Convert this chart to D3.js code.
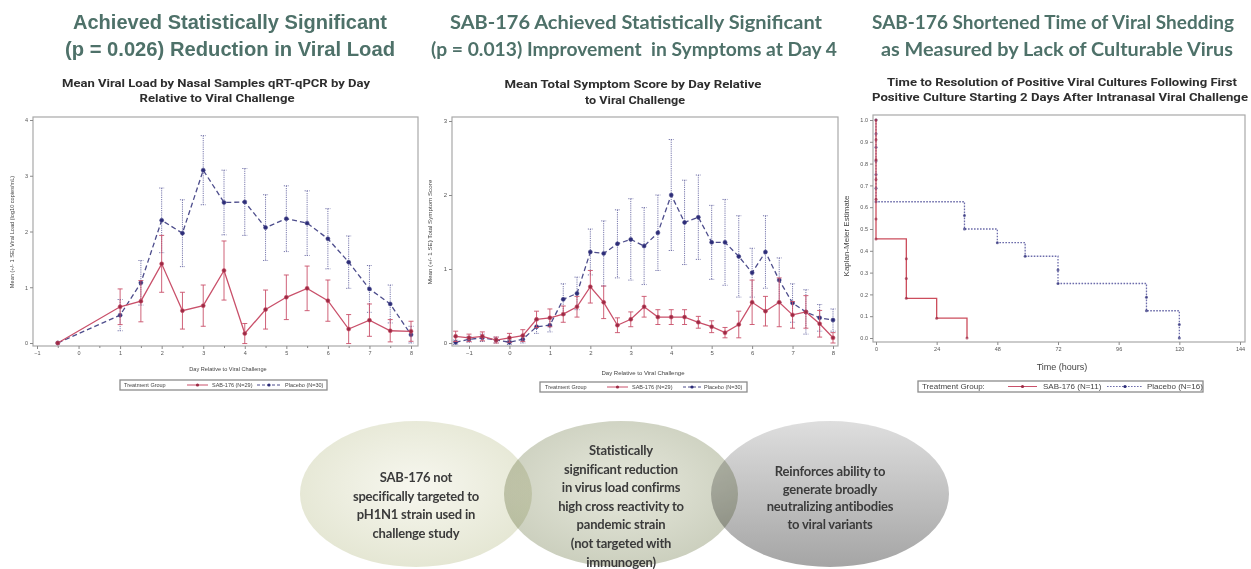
<!DOCTYPE html>
<html>
<head>
<meta charset="utf-8">
<script src="https://cdn.jsdelivr.net/npm/d3@7"></script>
<style>
body{margin:0;background:#fff;}
svg{display:block;}
</style>
</head>
<body>
<div id="chart"></div>
<script>
//values

//panel 1 - viral load by day
var viralDays  = [-0.5, 1, 1.5, 2, 2.5, 3, 3.5, 4, 4.5, 5, 5.5, 6, 6.5, 7, 7.5, 8];
var viralSab   = [0, 0.65, 0.75, 1.42, 0.58, 0.67, 1.30, 0.17, 0.60, 0.82, 0.98, 0.76, 0.25, 0.41, 0.22, 0.21];
var viralSabSe = [0, 0.32, 0.37, 0.51, 0.33, 0.37, 0.53, 0.18, 0.35, 0.40, 0.40, 0.37, 0.26, 0.29, 0.20, 0.18];
var viralPbo   = [0, 0.50, 1.08, 2.20, 1.97, 3.10, 2.52, 2.53, 2.07, 2.23, 2.15, 1.87, 1.45, 0.97, 0.70, 0.15];
var viralPboSe = [0, 0.28, 0.40, 0.58, 0.60, 0.62, 0.58, 0.60, 0.59, 0.59, 0.58, 0.54, 0.47, 0.42, 0.34, 0.15];

//panel 2 - symptom score, every 8 hours
var symDays  = [-1.33, -1, -0.67, -0.33, 0, 0.33, 0.67, 1, 1.33, 1.67, 2, 2.33, 2.67, 3, 3.33, 3.67, 4, 4.33, 4.67, 5, 5.33, 5.67, 6, 6.33, 6.67, 7, 7.33, 7.67, 8];
var symSab   = [0.09, 0.07, 0.09, 0.04, 0.07, 0.10, 0.32, 0.34, 0.39, 0.49, 0.76, 0.55, 0.24, 0.32, 0.49, 0.35, 0.35, 0.35, 0.28, 0.22, 0.14, 0.25, 0.55, 0.43, 0.55, 0.38, 0.42, 0.26, 0.07];
var symSabSe = [0.07, 0.05, 0.06, 0.04, 0.06, 0.08, 0.11, 0.12, 0.11, 0.14, 0.22, 0.22, 0.10, 0.10, 0.14, 0.10, 0.10, 0.10, 0.08, 0.08, 0.07, 0.18, 0.30, 0.20, 0.33, 0.18, 0.22, 0.18, 0.07];
var symPbo   = [0.01, 0.05, 0.07, 0.04, 0.01, 0.05, 0.22, 0.24, 0.59, 0.67, 1.23, 1.21, 1.34, 1.40, 1.31, 1.49, 2.00, 1.63, 1.70, 1.36, 1.36, 1.17, 0.95, 1.23, 0.85, 0.54, 0.42, 0.34, 0.31];
var symPboSe = [0.03, 0.04, 0.05, 0.04, 0.03, 0.05, 0.09, 0.09, 0.21, 0.22, 0.31, 0.44, 0.46, 0.55, 0.52, 0.51, 0.75, 0.57, 0.57, 0.50, 0.58, 0.55, 0.33, 0.49, 0.30, 0.26, 0.30, 0.18, 0.15];

//panel 3 - hours to resolution of each positive culture
var kmSabEvents = [0, 0, 0, 0, 0, 0, 12, 12, 12, 24, 36];
var kmPboEvents = [0, 0, 0, 0, 0, 0, 35, 35, 48, 59, 72, 72, 107, 107, 120, 120];

//tick labels
var dayTicks     = [-1, 0, 1, 2, 3, 4, 5, 6, 7, 8];
var dayMinor     = [-0.5, 0.5, 1.5, 2.5, 3.5, 4.5, 5.5, 6.5, 7.5];
var viralTicks   = [0, 1, 2, 3, 4];
var symTicks     = [0, 1, 2, 3];
var hourTicks    = [0, 24, 48, 72, 96, 120, 144];
var kmTicks      = [0, 0.1, 0.2, 0.3, 0.4, 0.5, 0.6, 0.7, 0.8, 0.9, 1.0];

//texts
var headTitles = [
	["Achieved Statistically Significant", "(p = 0.026) Reduction in Viral Load"],
	["SAB-176 Achieved Statistically Significant", "(p = 0.013) Improvement  in Symptoms at Day 4"],
	["SAB-176 Shortened Time of Viral Shedding", "as Measured by Lack of Culturable Virus"]
];
var subTitles = [
	["Mean Viral Load by Nasal Samples qRT-qPCR by Day", "Relative to Viral Challenge"],
	["Mean Total Symptom Score by Day Relative", "to Viral Challenge"],
	["Time to Resolution of Positive Viral Cultures Following First", "Positive Culture Starting 2 Days After Intranasal Viral Challenge"]
];
var yTitles = ["Mean (+/- 1 SE) Viral Load (log10 copies/mL)", "Mean (+/- 1 SE) Total Symptom Score", "Kaplan-Meier Estimate"];
var xTitles = ["Day Relative to Viral Challenge", "Day Relative to Viral Challenge", "Time (hours)"];
var groupNames = [["SAB-176 (N=29)", "Placebo (N=30)"], ["SAB-176 (N=29)", "Placebo (N=30)"], ["SAB-176 (N=11)", "Placebo (N=16)"]];
var bubbleTexts = [
	["SAB-176 not", "specifically targeted to", "pH1N1 strain used in", "challenge study"],
	["Statistically", "significant reduction", "in virus load confirms", "high cross reactivity to", "pandemic strain", "(not targeted with", "immunogen)"],
	["Reinforces ability to", "generate broadly", "neutralizing antibodies", "to viral variants"]
];

var RED = "#c9506a", REDDOT = "#9c2a44";
var BLUE = "#4d4d8c", BLUEDOT = "#2c2c78";
var TITLE = "#4e7169";

var svg = d3.select("#chart").append("svg")
	.attr("width", 1251)
	.attr("height", 569)
	.style("font-family", "Roboto, sans-serif");

svg.append("rect").attr("width", 1251).attr("height", 569).attr("fill", "#fff");

//big headline titles
var headLayout = [
	{cx:[230, 230], len:[314, 330], size:20, font:"'Liberation Sans', Arial, sans-serif"},
	{cx:[636, 634], len:[372, 406], size:19, font:"Lato, sans-serif"},
	{cx:[1053, 1057], len:[362, 352], size:19, font:"Lato, sans-serif"}
];
headTitles.forEach(function(lines, p){
	lines.forEach(function(t, i){
		svg.append("text")
			.attr("x", headLayout[p].cx[i])
			.attr("y", 29 + i * 27)
			.attr("text-anchor", "middle")
			.attr("textLength", headLayout[p].len[i])
			.attr("lengthAdjust", "spacingAndGlyphs")
			.style("white-space", "pre")
			.style("font-family", headLayout[p].font)
			.style("font-weight", "bold")
			.style("font-size", headLayout[p].size + "px")
			.attr("fill", TITLE)
			.text(t);
	});
});

//chart subtitles
var subLayout = [
	{cx:[216, 217], len:[308, 155], y:[87, 102]},
	{cx:[633, 635], len:[257, 100], y:[88, 104]},
	{cx:[1062, 1060], len:[350, 376], y:[86, 101]}
];
subTitles.forEach(function(lines, p){
	lines.forEach(function(t, i){
		svg.append("text")
			.attr("x", subLayout[p].cx[i])
			.attr("y", subLayout[p].y[i])
			.attr("text-anchor", "middle")
			.attr("textLength", subLayout[p].len[i])
			.attr("lengthAdjust", "spacingAndGlyphs")
			.style("font-weight", "bold")
			.style("font-size", "11px")
			.attr("fill", "#2e2e2e")
			.text(t);
	});
});

function styleAxis(a, fs){
	a.select(".domain").remove();
	a.selectAll("line").attr("stroke", "#8a8a8a");
	a.selectAll("text")
		.attr("fill", "#555")
		.style("font-size", fs + "px")
		.style("font-family", "'Liberation Sans', Arial, sans-serif");
}

function drawFrame(g, f){
	g.append("rect")
		.attr("x", f[0]).attr("y", f[1])
		.attr("width", f[2] - f[0]).attr("height", f[3] - f[1])
		.attr("fill", "none")
		.attr("stroke", "#a8a8a8")
		.attr("stroke-width", 1.2);
}

function drawAxes(g, x, y, cfg){
	var f = cfg.frame;
	var ax = g.append("g")
		.attr("transform", "translate(0," + f[3] + ")")
		.call(d3.axisBottom(x).tickValues(cfg.xTicks).tickFormat(cfg.xFmt).tickSize(3).tickPadding(2).tickSizeOuter(0));
	styleAxis(ax, cfg.fs);
	if(cfg.xMinor){
		var am = g.append("g")
			.attr("transform", "translate(0," + f[3] + ")")
			.call(d3.axisBottom(x).tickValues(cfg.xMinor).tickFormat("").tickSize(2).tickSizeOuter(0));
		styleAxis(am, cfg.fs);
	}
	var ay = g.append("g")
		.attr("transform", "translate(" + f[0] + ",0)")
		.call(d3.axisLeft(y).tickValues(cfg.yTicks).tickFormat(cfg.yFmt).tickSize(3).tickPadding(2).tickSizeOuter(0));
	styleAxis(ay, cfg.fs);

	//axis titles
	g.append("text")
		.attr("x", cfg.xTitlePos[0]).attr("y", cfg.xTitlePos[1])
		.attr("text-anchor", "middle")
		.style("font-family", "'Liberation Sans', Arial, sans-serif")
		.style("font-size", cfg.xTitleSize + "px")
		.attr("fill", "#444")
		.text(xTitles[cfg.idx]);
	g.append("text")
		.attr("text-anchor", "middle")
		.attr("transform", "translate(" + cfg.yTitlePos[0] + "," + cfg.yTitlePos[1] + ")rotate(-90)")
		.style("font-family", "'Liberation Sans', Arial, sans-serif")
		.style("font-size", cfg.yTitleSize + "px")
		.attr("fill", "#444")
		.text(yTitles[cfg.idx]);
}

function drawLegend(g, L, idx){
	var b = L.box, cy = (b[1] + b[3]) / 2;
	var lg = g.append("g")
		.style("font-family", "'Liberation Sans', Arial, sans-serif")
		.style("font-size", L.size + "px");
	lg.append("rect")
		.attr("x", b[0]).attr("y", b[1])
		.attr("width", b[2] - b[0]).attr("height", b[3] - b[1])
		.attr("fill", "#fff").attr("stroke", "#8c8c8c").attr("stroke-width", 1.3);
	lg.append("text").attr("x", L.labelX).attr("y", cy).attr("dy", "0.35em").attr("fill", "#444").text(L.label);

	var items = [
		{line:L.red, tx:L.redX, color:RED, dot:REDDOT, dash:null, name:groupNames[idx][0]},
		{line:L.blue, tx:L.blueX, color:L.blueColor, dot:BLUEDOT, dash:L.blueDash, name:groupNames[idx][1]}
	];
	items.forEach(function(it){
		lg.append("line")
			.attr("x1", it.line[0]).attr("x2", it.line[1])
			.attr("y1", cy).attr("y2", cy)
			.attr("stroke", it.color).attr("stroke-width", 1)
			.attr("stroke-dasharray", it.dash);
		lg.append("circle")
			.attr("cx", (it.line[0] + it.line[1]) / 2).attr("cy", cy).attr("r", 1.6)
			.attr("fill", it.dot);
		lg.append("text").attr("x", it.tx).attr("y", cy).attr("dy", "0.35em").attr("fill", "#444").text(it.name);
	});
}

//mean +/- SE line chart (panels 1 and 2)
function meanPanel(cfg){
	var g = svg.append("g");
	var x = d3.scaleLinear().domain([-1, 8]).range(cfg.xRange);
	var y = d3.scaleLinear().domain([0, cfg.yTicks[cfg.yTicks.length - 1]]).range(cfg.yRange);

	drawFrame(g, cfg.frame);
	drawAxes(g, x, y, cfg);

	cfg.series.forEach(function(s){
		//error bars, skipped where there is no SE
		g.append("g").selectAll("path")
			.data(s.mean)
			.enter()
			.append("path")
			.attr("d", function(d, i){
				if(!s.se[i]) return null;
				var cx = x(s.days[i]), top = y(d + s.se[i]), bot = y(d - s.se[i]);
				return "M" + (cx - 2.5) + "," + top + "H" + (cx + 2.5) +
					"M" + cx + "," + top + "V" + bot +
					"M" + (cx - 2.5) + "," + bot + "H" + (cx + 2.5);
			})
			.attr("fill", "none")
			.attr("stroke", s.errColor)
			.attr("stroke-width", 0.9)
			.attr("stroke-dasharray", s.errDash);

		var line = d3.line()
			.x(function(d, i){ return x(s.days[i]); })
			.y(function(d){ return y(d); });

		g.append("path")
			.datum(s.mean)
			.attr("d", line)
			.attr("fill", "none")
			.attr("stroke", s.color)
			.attr("stroke-width", 1.3)
			.attr("stroke-dasharray", s.dash);

		g.append("g").selectAll("circle")
			.data(s.mean)
			.enter()
			.append("circle")
			.attr("cx", function(d, i){ return x(s.days[i]); })
			.attr("cy", function(d){ return y(d); })
			.attr("r", 2)
			.attr("fill", s.dot)
			.attr("stroke", s.color)
			.attr("stroke-width", 0.6);
	});

	drawLegend(g, cfg.legend, cfg.idx);
}

var pboSeries = function(days, mean, se){
	return {days:days, mean:mean, se:se, color:BLUE, dot:BLUEDOT, dash:"5,3", errColor:"#6a6aa4", errDash:"1.2,1"};
};
var sabSeries = function(days, mean, se){
	return {days:days, mean:mean, se:se, color:RED, dot:REDDOT, dash:null, errColor:RED, errDash:null};
};

meanPanel({
	idx:0,
	frame:[33, 117, 418, 346],
	xRange:[37, 411], yRange:[343, 120],
	xTicks:dayTicks, xMinor:dayMinor, yTicks:viralTicks,
	xFmt:d3.format("d"), yFmt:d3.format("d"),
	fs:5.5,
	xTitlePos:[228, 371], xTitleSize:5.6,
	yTitlePos:[14, 232], yTitleSize:5.6,
	series:[pboSeries(viralDays, viralPbo, viralPboSe), sabSeries(viralDays, viralSab, viralSabSe)],
	legend:{box:[120, 380, 327, 390], size:5.5, label:"Treatment Group", labelX:124,
		red:[187, 208], redX:212, blue:[257, 281], blueX:285, blueColor:BLUE, blueDash:"3,2"}
});

meanPanel({
	idx:1,
	frame:[452, 117, 838, 346],
	xRange:[469, 833], yRange:[343, 121],
	xTicks:dayTicks, xMinor:null, yTicks:symTicks,
	xFmt:d3.format("d"), yFmt:d3.format("d"),
	fs:6,
	xTitlePos:[643, 375], xTitleSize:6,
	yTitlePos:[432, 232], yTitleSize:6.2,
	series:[pboSeries(symDays, symPbo, symPboSe), sabSeries(symDays, symSab, symSabSe)],
	legend:{box:[540, 382, 747, 392], size:5.5, label:"Treatment Group", labelX:545,
		red:[607, 628], redX:632, blue:[683, 701], blueX:704, blueColor:BLUE, blueDash:"3,2"}
});

//Kaplan-Meier panel
function kmPoints(events){
	var n = events.length;
	return [{t:0, s:1}].concat(events.map(function(t, i){
		return {t:t, s:(n - i - 1) / n};
	}));
}

(function(){
	var cfg = {
		idx:2,
		frame:[873, 115, 1245, 342],
		xTicks:hourTicks, yTicks:kmTicks,
		xFmt:d3.format("d"), yFmt:d3.format(".1f"),
		fs:5.5,
		xTitlePos:[1062, 370], xTitleSize:9,
		yTitlePos:[849, 236], yTitleSize:8
	};
	var g = svg.append("g");
	var x = d3.scaleLinear().domain([0, 144]).range([876, 1240]);
	var y = d3.scaleLinear().domain([0, 1]).range([338, 120]);

	drawFrame(g, cfg.frame);
	drawAxes(g, x, y, cfg);

	var step = d3.line()
		.curve(d3.curveStepAfter)
		.x(function(d){ return x(d.t); })
		.y(function(d){ return y(d.s); });

	var groups = [
		{pts:kmPoints(kmPboEvents), color:"#6d6dab", dash:"1.6,1.4", dot:BLUEDOT},
		{pts:kmPoints(kmSabEvents), color:"#cc4d5c", dash:null, dot:REDDOT}
	];
	groups.forEach(function(k){
		g.append("path")
			.datum(k.pts)
			.attr("d", step)
			.attr("fill", "none")
			.attr("stroke", k.color)
			.attr("stroke-width", 1.3)
			.attr("stroke-dasharray", k.dash);
		g.append("g").selectAll("circle")
			.data(k.pts)
			.enter()
			.append("circle")
			.attr("cx", function(d){ return x(d.t); })
			.attr("cy", function(d){ return y(d.s); })
			.attr("r", 1.5)
			.attr("fill", k.dot)
			.attr("opacity", 0.7);
	});

	drawLegend(g, {box:[918, 381, 1203, 392], size:8, label:"Treatment Group:", labelX:922,
		red:[1008, 1037], redX:1043, blue:[1107, 1143], blueX:1147, blueColor:"#6d6dab", blueDash:"1.6,1.4"}, 2);
})();

//the three overlapping bubbles at the bottom
var defs = svg.append("defs");
var bubbleFills = [["#f7f7ef", "#e3e5d1"], ["#e6e8dc", "#c9cdbb"], ["#dedede", "#a5a5a5"]];
bubbleFills.forEach(function(c, i){
	var gr = (i < 2 ? defs.append("radialGradient").attr("cx", "50%").attr("cy", "45%").attr("r", "60%")
		: defs.append("linearGradient").attr("x1", 0).attr("y1", 0).attr("x2", 0).attr("y2", 1))
		.attr("id", "bub" + i);
	gr.append("stop").attr("offset", "0%").attr("stop-color", c[0]);
	gr.append("stop").attr("offset", "100%").attr("stop-color", c[1]);
});

var bubbleLayout = [
	{cx:416, rx:116, first:482, gap:18.7},
	{cx:621, rx:117, first:455, gap:18.6},
	{cx:830, rx:119, first:476, gap:17.5}
];
bubbleLayout.forEach(function(b, i){
	svg.append("ellipse")
		.attr("cx", b.cx).attr("cy", 494)
		.attr("rx", b.rx).attr("ry", 73)
		.attr("fill", "url(#bub" + i + ")")
		.style("mix-blend-mode", "multiply");
});
bubbleLayout.forEach(function(b, i){
	bubbleTexts[i].forEach(function(t, j){
		svg.append("text")
			.attr("x", b.cx)
			.attr("y", b.first + j * b.gap)
			.attr("text-anchor", "middle")
			.style("font-family", "Lato, sans-serif")
			.style("font-weight", "bold")
			.style("font-size", "13px")
			.style("letter-spacing", "-0.2px")
			.attr("fill", "#3b3b3b")
			.text(t);
	});
});
</script>
</body>
</html>
